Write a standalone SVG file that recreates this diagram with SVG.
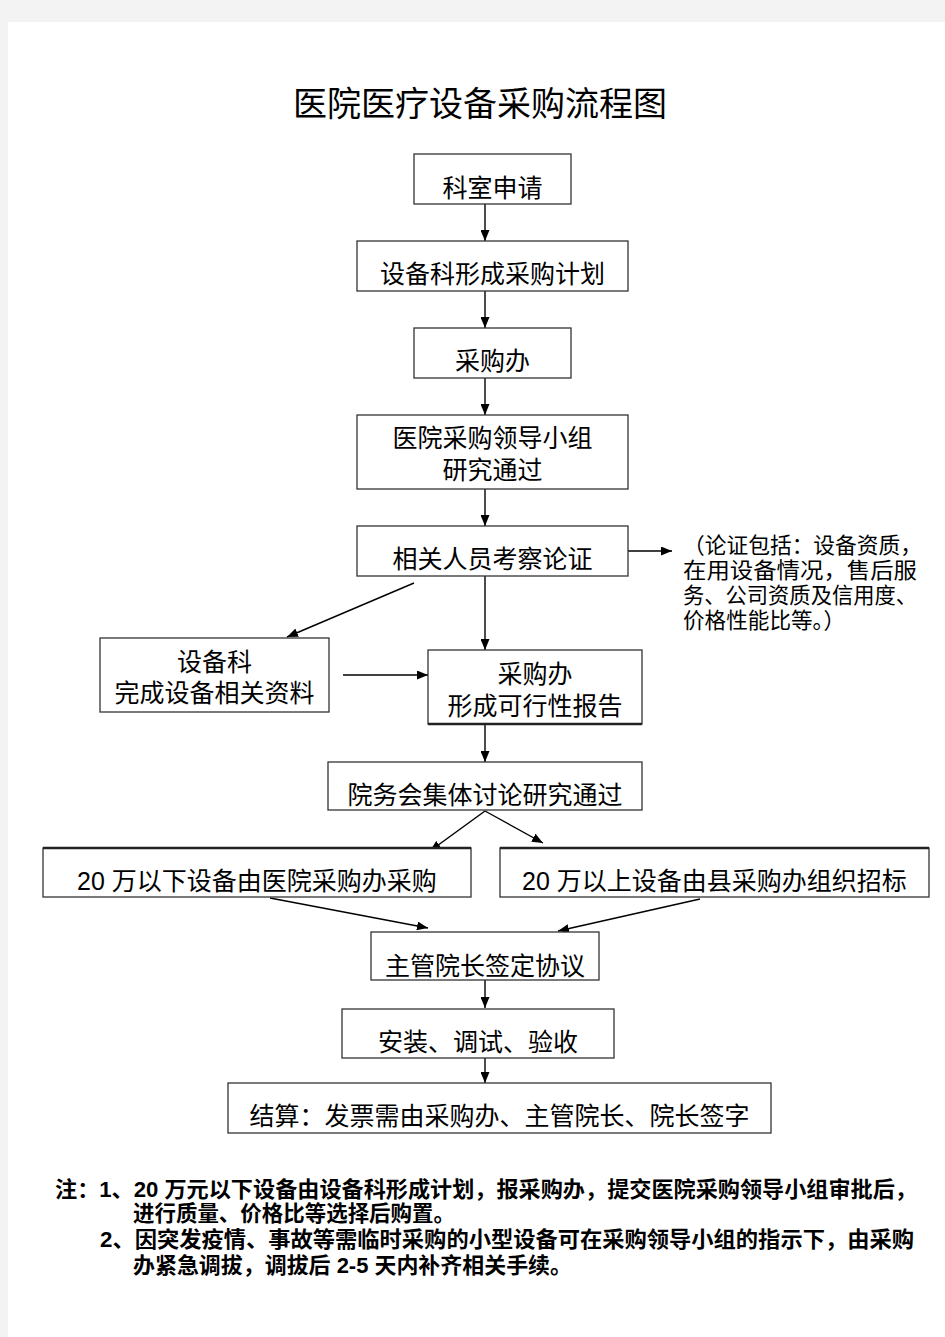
<svg xmlns="http://www.w3.org/2000/svg" width="945" height="1337" viewBox="0 0 945 1337">
<defs>
<marker id="ah" markerUnits="userSpaceOnUse" markerWidth="11" markerHeight="9" refX="11" refY="4.5" orient="auto">
<path d="M0,0 L11,4.5 L0,9 z" fill="#000"/>
</marker>
<style>
.box{fill:#fff;stroke:#333;stroke-width:1.3}
.t{font-family:"Liberation Sans","Noto Sans CJK SC",sans-serif;font-size:25px;fill:#000;text-anchor:middle}
.n{font-family:"Liberation Sans","Noto Sans CJK SC",sans-serif;font-size:22px;fill:#000}
.b{font-family:"Liberation Sans","Noto Sans CJK SC",sans-serif;font-size:21.5px;font-weight:bold;fill:#000}
.c{stroke:#000;stroke-width:1.4;fill:none;marker-end:url(#ah)}
.thick{stroke:#222;stroke-width:2.6}
</style>
</defs>
<rect x="0" y="0" width="945" height="1337" fill="#f3f3f3"/>
<rect x="8" y="22" width="937" height="1315" fill="#fff"/>
<text x="480" y="116" class="t" style="font-size:34px">医院医疗设备采购流程图</text>

<g id="connectors">
<line class="c" x1="485" y1="204" x2="485" y2="241"/>
<line class="c" x1="485" y1="291" x2="485" y2="328"/>
<line class="c" x1="485" y1="378" x2="485" y2="415"/>
<line class="c" x1="485" y1="489" x2="485" y2="526"/>
<line class="c" x1="628" y1="551" x2="672" y2="551"/>
<line class="c" x1="485" y1="576" x2="485" y2="650"/>
<line class="c" x1="414" y1="583" x2="287" y2="637"/>
<line class="c" x1="343" y1="675" x2="428" y2="675"/>
<line class="c" x1="485" y1="724" x2="485" y2="762"/>
<line class="c" x1="485" y1="811" x2="430" y2="851"/>
<line class="c" x1="485" y1="811" x2="543" y2="843"/>
<line class="c" x1="270" y1="898" x2="428" y2="928"/>
<line class="c" x1="700" y1="899" x2="558" y2="931"/>
<line class="c" x1="485" y1="980" x2="485" y2="1008"/>
<line class="c" x1="485" y1="1058" x2="485" y2="1083"/>
</g>

<g id="n1"><rect class="box" x="414" y="154" width="157" height="50"/><text class="t" x="492.5" y="197">科室申请</text></g>
<g id="n2"><rect class="box" x="357" y="241" width="271" height="50"/><text class="t" x="492.5" y="283">设备科形成采购计划</text></g>
<g id="n3"><rect class="box" x="414" y="328" width="157" height="50"/><text class="t" x="492.5" y="370">采购办</text></g>
<g id="n4"><rect class="box" x="357" y="415" width="271" height="74"/><text class="t" x="492.5" y="447">医院采购领导小组</text><text class="t" x="492.5" y="479">研究通过</text></g>
<g id="n5"><rect class="box" x="357" y="526" width="271" height="50"/><text class="t" x="492.5" y="568">相关人员考察论证</text></g>
<g id="note">
<text class="n" x="683" y="553" textLength="239" lengthAdjust="spacingAndGlyphs">（论证包括：设备资质，</text>
<text class="n" x="683" y="578" textLength="234" lengthAdjust="spacingAndGlyphs">在用设备情况，售后服</text>
<text class="n" x="683" y="603" textLength="234" lengthAdjust="spacingAndGlyphs">务、公司资质及信用度、</text>
<text class="n" x="683" y="628" textLength="162" lengthAdjust="spacingAndGlyphs">价格性能比等。）</text>
</g>
<g id="n6"><rect class="box" x="100" y="638" width="229" height="74"/><text class="t" x="214.5" y="671">设备科</text><text class="t" x="214.5" y="702">完成设备相关资料</text></g>
<g id="n7"><rect class="box" x="428" y="650" width="214" height="74"/><line class="thick" x1="428" y1="724" x2="642" y2="724"/><text class="t" x="535" y="683">采购办</text><text class="t" x="535" y="715">形成可行性报告</text></g>
<g id="n8"><rect class="box" x="328" y="762" width="314" height="48"/><text class="t" x="485" y="804">院务会集体讨论研究通过</text></g>
<g id="n9"><rect class="box" x="43" y="848" width="428" height="49"/><line class="thick" x1="43" y1="848" x2="471" y2="848"/><text class="t" x="257" y="890">20 万以下设备由医院采购办采购</text></g>
<g id="n10"><rect class="box" x="500" y="848" width="429" height="49"/><line class="thick" x1="500" y1="848" x2="929" y2="848"/><text class="t" x="714.5" y="890">20 万以上设备由县采购办组织招标</text></g>
<g id="n11"><rect class="box" x="371" y="932" width="228" height="48"/><text class="t" x="485" y="975">主管院长签定协议</text></g>
<g id="n12"><rect class="box" x="342" y="1009" width="272" height="49"/><text class="t" x="478" y="1051">安装、调试、验收</text></g>
<g id="n13"><rect class="box" x="228" y="1083" width="543" height="50"/><text class="t" x="499.5" y="1125">结算：发票需由采购办、主管院长、院长签字</text></g>

<g id="footnote">
<text class="b" x="55" y="1197" textLength="862" lengthAdjust="spacingAndGlyphs">注：1、20 万元以下设备由设备科形成计划，报采购办，提交医院采购领导小组审批后，</text>
<text class="b" x="133" y="1221" textLength="322" lengthAdjust="spacingAndGlyphs">进行质量、价格比等选择后购置。</text>
<text class="b" x="100" y="1247" textLength="814" lengthAdjust="spacingAndGlyphs">2、因突发疫情、事故等需临时采购的小型设备可在采购领导小组的指示下，由采购</text>
<text class="b" x="133" y="1273" textLength="439" lengthAdjust="spacingAndGlyphs">办紧急调拔，调拔后 2-5 天内补齐相关手续。</text>
</g>
</svg>
